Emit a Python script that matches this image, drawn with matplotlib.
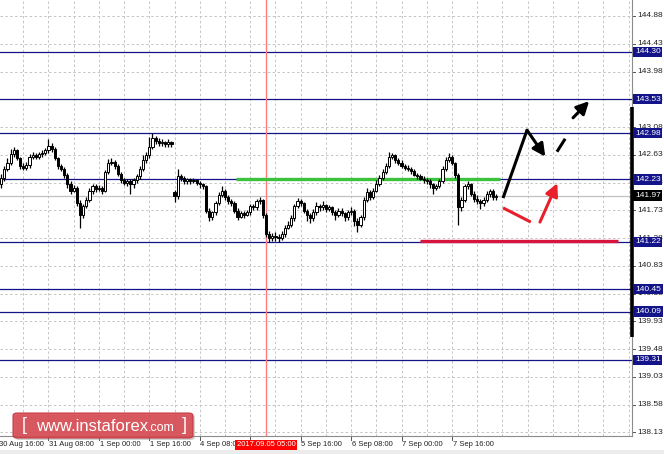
import matplotlib
matplotlib.use('Agg')
import matplotlib.pyplot as plt
from matplotlib.patches import FancyBboxPatch, Rectangle
import numpy as np

plt.rcParams['font.family'] = ['Liberation Sans', 'DejaVu Sans']

# hourly bars, index 0 = 30 Aug 16:00, first drawn bar is index 1
opens = [142.15, 142.25, 142.40, 142.50, 142.65, 142.70, 142.58, 142.45, 142.42, 142.46,
         142.60, 142.62, 142.60, 142.64, 142.66, 142.70, 142.78, 142.72, 142.58, 142.45,
         142.40, 142.30, 142.15, 142.05, 142.10, 141.85, 141.65, 141.80, 141.90, 142.05,
         142.12, 142.08, 142.10, 142.05, 142.35, 142.50, 142.52, 142.45, 142.32, 142.22,
         142.18, 142.20, 142.15, 142.22, 142.28, 142.40, 142.55, 142.62, 142.75, 142.90,
         142.85, 142.82, 142.84, 142.80, 142.83, 142.02, 141.96, 142.28, 142.25, 142.20,
         142.23, 142.20, 142.22, 142.18, 142.15, 142.12, 141.72, 141.62, 141.70, 141.85,
         141.98, 142.05, 141.95, 141.88, 141.85, 141.72, 141.62, 141.68, 141.65, 141.70,
         141.80, 141.78, 141.88, 141.90, 141.65, 141.35, 141.28, 141.32, 141.30, 141.28,
         141.35, 141.45, 141.50, 141.60, 141.80, 141.88, 141.85, 141.72, 141.65, 141.60,
         141.70, 141.80, 141.78, 141.82, 141.75, 141.78, 141.70, 141.65, 141.72, 141.68,
         141.62, 141.70, 141.72, 141.55, 141.50, 141.62, 141.90, 142.02, 141.95, 142.05,
         142.15, 142.25, 142.35, 142.45, 142.60, 142.62, 142.55, 142.50, 142.45, 142.42,
         142.40, 142.36, 142.30, 142.28, 142.24, 142.22, 142.20, 142.15, 142.10, 142.12,
         142.20, 142.40, 142.55, 142.60, 142.50, 142.30, 141.78, 141.90, 142.12, 142.15,
         142.00, 141.92, 141.88, 141.85, 141.90, 142.00, 142.05, 141.95]
highs = [142.32, 142.45, 142.58, 142.72, 142.76, 142.72, 142.60, 142.50, 142.52, 142.64,
         142.68, 142.66, 142.68, 142.70, 142.74, 142.88, 142.82, 142.75, 142.60, 142.48,
         142.44, 142.34, 142.20, 142.14, 142.12, 141.90, 141.84, 141.95, 142.10, 142.16,
         142.15, 142.14, 142.12, 142.38, 142.56, 142.58, 142.54, 142.48, 142.35, 142.25,
         142.24, 142.24, 142.26, 142.32, 142.45, 142.62, 142.68, 142.92, 142.98, 142.94,
         142.90, 142.88, 142.86, 142.88, 142.86, 142.06, 142.40, 142.32, 142.28, 142.26,
         142.26, 142.25, 142.24, 142.20, 142.17, 142.14, 141.76, 141.72, 141.88, 142.02,
         142.12, 142.08, 141.98, 141.92, 141.88, 141.76, 141.72, 141.72, 141.74, 141.84,
         141.84, 141.92, 141.94, 141.92, 141.68, 141.40, 141.36, 141.38, 141.35, 141.40,
         141.50, 141.55, 141.65, 141.84, 141.93, 141.92, 141.86, 141.75, 141.68, 141.75,
         141.86, 141.84, 141.88, 141.84, 141.82, 141.80, 141.74, 141.76, 141.76, 141.70,
         141.74, 141.78, 141.75, 141.60, 141.66, 141.94, 142.10, 142.06, 142.10, 142.22,
         142.30, 142.40, 142.50, 142.68, 142.66, 142.65, 142.58, 142.54, 142.48, 142.46,
         142.44, 142.40, 142.34, 142.32, 142.28, 142.26, 142.24, 142.18, 142.16, 142.24,
         142.45, 142.60, 142.66, 142.62, 142.52, 142.34, 141.94, 142.16, 142.20, 142.18,
         142.05, 141.98, 141.92, 141.94, 142.04, 142.08, 142.07, 142.00]
lows = [142.10, 142.20, 142.36, 142.46, 142.60, 142.55, 142.40, 142.38, 142.38, 142.42,
        142.56, 142.56, 142.56, 142.60, 142.62, 142.66, 142.68, 142.54, 142.40, 142.36,
        142.26, 142.10, 142.00, 142.02, 141.80, 141.45, 141.60, 141.76, 141.86, 142.00,
        142.02, 142.04, 142.00, 142.02, 142.32, 142.46, 142.40, 142.28, 142.18, 142.14,
        142.12, 142.00, 142.10, 142.18, 142.24, 142.36, 142.50, 142.58, 142.72, 142.80,
        142.78, 142.78, 142.76, 142.76, 142.76, 141.86, 141.92, 142.20, 142.16, 142.16,
        142.16, 142.17, 142.14, 142.10, 142.08, 141.68, 141.55, 141.58, 141.66, 141.82,
        141.94, 141.90, 141.84, 141.80, 141.68, 141.58, 141.60, 141.60, 141.64, 141.66,
        141.74, 141.74, 141.84, 141.60, 141.30, 141.22, 141.24, 141.24, 141.22, 141.25,
        141.30, 141.42, 141.46, 141.56, 141.76, 141.80, 141.68, 141.55, 141.52, 141.56,
        141.66, 141.72, 141.74, 141.70, 141.72, 141.66, 141.58, 141.62, 141.64, 141.56,
        141.58, 141.66, 141.48, 141.38, 141.46, 141.58, 141.86, 141.90, 141.92, 142.02,
        142.12, 142.22, 142.32, 142.42, 142.56, 142.50, 142.46, 142.42, 142.38, 142.36,
        142.32, 142.28, 142.24, 142.22, 142.18, 142.16, 142.10, 142.00, 142.06, 142.10,
        142.18, 142.36, 142.52, 142.46, 142.26, 141.50, 141.72, 141.86, 142.08, 141.96,
        141.86, 141.84, 141.75, 141.80, 141.86, 141.95, 141.90, 141.90]
closes = [142.25, 142.40, 142.50, 142.65, 142.70, 142.58, 142.45, 142.42, 142.46, 142.60,
          142.62, 142.60, 142.64, 142.66, 142.70, 142.78, 142.72, 142.58, 142.45, 142.40,
          142.30, 142.15, 142.05, 142.10, 141.85, 141.65, 141.80, 141.90, 142.05, 142.12,
          142.08, 142.10, 142.05, 142.35, 142.50, 142.52, 142.45, 142.32, 142.22, 142.18,
          142.20, 142.15, 142.22, 142.28, 142.40, 142.55, 142.62, 142.75, 142.90, 142.85,
          142.82, 142.84, 142.80, 142.83, 142.80, 141.96, 142.28, 142.25, 142.20, 142.23,
          142.20, 142.22, 142.18, 142.15, 142.12, 141.72, 141.62, 141.70, 141.85, 141.98,
          142.05, 141.95, 141.88, 141.85, 141.72, 141.62, 141.68, 141.65, 141.70, 141.80,
          141.78, 141.88, 141.90, 141.65, 141.35, 141.28, 141.32, 141.30, 141.28, 141.35,
          141.45, 141.50, 141.60, 141.80, 141.88, 141.85, 141.72, 141.65, 141.60, 141.70,
          141.80, 141.78, 141.82, 141.75, 141.78, 141.70, 141.65, 141.72, 141.68, 141.62,
          141.70, 141.72, 141.55, 141.50, 141.62, 141.90, 142.02, 141.95, 142.05, 142.15,
          142.25, 142.35, 142.45, 142.60, 142.62, 142.55, 142.50, 142.45, 142.42, 142.40,
          142.36, 142.30, 142.28, 142.24, 142.22, 142.20, 142.15, 142.10, 142.12, 142.20,
          142.40, 142.55, 142.60, 142.50, 142.30, 141.78, 141.90, 142.12, 142.15, 142.00,
          141.92, 141.88, 141.85, 141.90, 142.00, 142.05, 141.95, 141.97]

time_ticks = [0, 16, 32, 48, 64, 80, 96, 112, 128, 144]
time_labels = ['30 Aug 16:00', '31 Aug 08:00', '1 Sep 00:00', '1 Sep 16:00', '4 Sep 08:00',
               '5 Sep 00:00', '5 Sep 16:00', '6 Sep 08:00', '7 Sep 00:00', '7 Sep 16:00']
price_ticks = [144.88, 144.43, 143.98, 143.53, 143.08, 142.63, 142.18, 141.73,
               141.28, 140.83, 140.38, 139.93, 139.48, 139.03, 138.58, 138.13]
levels = [144.30, 143.53, 142.98, 142.23, 141.22, 140.45, 140.09, 139.31]
last_price = 141.97
marked_bar = 85
marked_label = '2017.09.05 05:00'

# drawn zones: (start bar, end bar, price)
green_zone = (75.5, 159.2, 142.23)
red_zone = (133.8, 196.6, 141.24)

# forecast strokes (bar, price)
black_up = [(160.2, 141.93), (167.8, 143.03)]
black_down = [(167.8, 143.03), (173.6, 142.60)]
black_dash = [(177.3, 142.68), (179.9, 142.89)]
black_dash_arrow = [(182.4, 143.23), (187.5, 143.50)]
red_down = [(160.2, 141.77), (169.0, 141.54)]
red_up = [(171.9, 141.54), (177.4, 142.17)]

navy = '#14148a'
W, H = 664, 454
ax_l, ax_r, ax_b, ax_t = 0, 632, 18, 454

fig = plt.figure(figsize=(W / 100, H / 100), dpi=100)
fig.patch.set_facecolor('white')
ax = fig.add_axes([ax_l / W, ax_b / H, (ax_r - ax_l) / W, (ax_t - ax_b) / H])
ax.set_xlim(0.634, 201.1)
ax.set_ylim(138.073, 145.139)
ax.set_xticks([])
ax.set_yticks([])
for s in ['top', 'left']:
    ax.spines[s].set_visible(False)
ax.spines['bottom'].set_color('#8c8c8c')
ax.spines['right'].set_color('#8c8c8c')
ax.spines['bottom'].set_linewidth(0.8)
ax.spines['right'].set_linewidth(0.8)

# grid
for p in price_ticks:
    ax.axhline(p, color='#c4c4c4', lw=0.7, ls=(0, (2.5, 2.5)), zorder=0)
for g in range(0, 208, 8):
    ax.axvline(g, color='#c4c4c4', lw=0.7, ls=(0, (2.5, 2.5)), zorder=0)

# levels
for lv in levels:
    ax.axhline(lv, color=navy, lw=0.9, zorder=1)
ax.axhline(last_price, color='#c0c0c0', lw=0.9, zorder=1)
ax.axvline(marked_bar, color='#ff7b7b', lw=1.0, zorder=1)

ax.plot([green_zone[0], green_zone[1]], [green_zone[2], green_zone[2]],
        color='#3cc23c', lw=2.4, solid_capstyle='butt', zorder=2)
ax.plot([red_zone[0], red_zone[1]], [red_zone[2], red_zone[2]],
        color='#d8143c', lw=2.4, solid_capstyle='butt', zorder=2)

# candles
o = np.array(opens)
h = np.array(highs)
l = np.array(lows)
c = np.array(closes)
x = np.arange(1, len(c) + 1)
ax.vlines(x, l, h, color='black', lw=0.9, zorder=3)
body_lo = np.minimum(o, c)
body_h = np.maximum(np.abs(c - o), 0.01)
fills = ['white' if cc >= oo else 'black' for oo, cc in zip(o, c)]
ax.bar(x, body_h, bottom=body_lo, width=0.7, color=fills, edgecolor='black',
       linewidth=0.7, zorder=4)

# forecast strokes
def stroke(pts, color, arrow=False, lw=2.2):
    (x0, y0), (x1, y1) = pts
    if arrow:
        ax.annotate('', xy=(x1, y1), xytext=(x0, y0),
                    arrowprops=dict(arrowstyle='-|>,head_length=0.75,head_width=0.38',
                                    color=color, lw=lw, shrinkA=0, shrinkB=0), zorder=6)
    else:
        ax.plot([x0, x1], [y0, y1], color=color, lw=lw, solid_capstyle='butt', zorder=6)

stroke(black_up, 'black')
stroke(black_down, 'black', arrow=True)
stroke(black_dash, 'black')
stroke(black_dash_arrow, 'black', arrow=True)
stroke(red_down, '#e8202c')
stroke(red_up, '#e8202c', arrow=True)

# right price scale
ytr = ax.get_yaxis_transform()
for p in price_ticks:
    ax.plot([1.0, 1.0 + 3 / 632], [p, p], transform=ytr, color='#555555', lw=0.7, clip_on=False)
    ax.text(1.0 + 5 / 632, p, f'{p:.2f}', transform=ytr, fontsize=6, color='#222222',
            ha='left', va='center', clip_on=False)
ax.plot([1.0, 1.0], [139.68, 143.405], transform=ytr, color='black', lw=2.6,
        solid_capstyle='butt', clip_on=False, zorder=5)
for lv in levels:
    ax.text(1.0 + 3 / 632, lv, f'{lv:.2f}', transform=ytr, fontsize=6, color='white',
            ha='left', va='center', clip_on=False, zorder=7,
            bbox=dict(boxstyle='square,pad=0.2', fc=navy, ec='none'))
ax.text(1.0 + 3 / 632, last_price, f'{last_price:.2f}', transform=ytr, fontsize=6,
        color='white', ha='left', va='center', clip_on=False, zorder=7,
        bbox=dict(boxstyle='square,pad=0.2', fc='black', ec='none'))

# bottom time scale
xtr = ax.get_xaxis_transform()
for t, lab in zip(time_ticks, time_labels):
    ax.plot([t, t], [0, -4 / 436], transform=xtr, color='#555555', lw=0.7, clip_on=False)
    ax.text(t + 0.2, -9 / 436, lab, transform=xtr, fontsize=5.5, color='#222222',
            ha='left', va='center', clip_on=False)
ax.text(marked_bar, -9 / 436, marked_label, transform=xtr, fontsize=5.5, color='white',
        ha='center', va='center', clip_on=False, zorder=8,
        bbox=dict(boxstyle='square,pad=0.25', fc='#ff0000', ec='none'))

fig.patches.append(Rectangle((0, 0), 1, 4 / H, transform=fig.transFigure,
                             fc='#ececec', ec='none'))

# watermark badge
bx0, by0, bw, bh = 13 / W, (H - 438) / H, 180 / W, 25 / H
fig.patches.append(FancyBboxPatch((bx0 + 2 / W, by0 - 2 / H), bw, bh,
                                  boxstyle='round,pad=0,rounding_size=0.006',
                                  transform=fig.transFigure, fc='#9a9a9a', ec='none',
                                  alpha=0.45, zorder=9))
fig.patches.append(FancyBboxPatch((bx0, by0), bw, bh,
                                  boxstyle='round,pad=0,rounding_size=0.006',
                                  transform=fig.transFigure, fc='#d9474f', ec='#c0303a',
                                  lw=0.8, alpha=0.88, zorder=10))
cy = by0 + bh / 2
fig.text(22 / W, cy, '[', color='white', fontsize=13, ha='left', va='center', zorder=11)
t1 = fig.text(36 / W, cy - 1 / H, 'www.instaforex', color='white', fontsize=12,
              ha='left', va='center', zorder=11)
fig.canvas.draw()
ext = t1.get_window_extent()
fig.text(ext.x1 / W, cy - 2.5 / H, '.com', color='white', fontsize=9, ha='left',
         va='center', zorder=11)
fig.text(182 / W, cy, ']', color='white', fontsize=13, ha='left', va='center', zorder=11)

fig.savefig('out.png', dpi=100)
